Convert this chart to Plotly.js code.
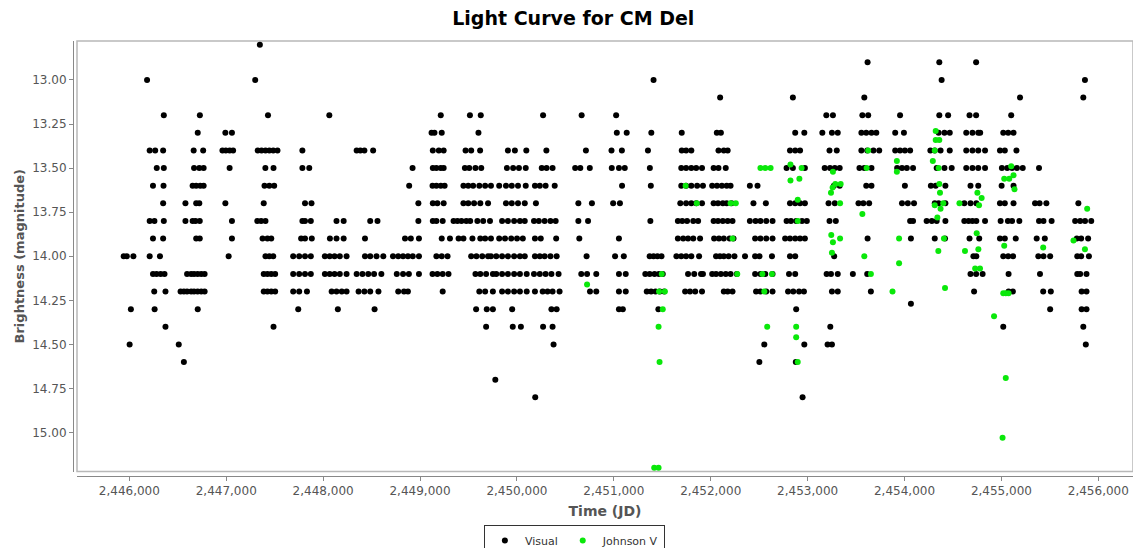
<!DOCTYPE html>
<html>
<head>
<meta charset="utf-8">
<script src="https://cdn.plot.ly/plotly-3.0.1.min.js"></script>
<style>html,body{margin:0;padding:0;background:#fff;}#chart{width:1133px;height:548px;}</style>
</head>
<body>
<div id="chart"></div>
<script>
// Days are counted from JD 2,440,000
const JD_BASE = 2440000;

// Visual estimates: one list of observation days per magnitude value
const visualMags = [12.8, 12.9, 13.0, 13.1, 13.2, 13.3, 13.4, 13.5, 13.6, 13.7, 13.8, 13.9, 14.0, 14.1, 14.2, 14.27, 14.3, 14.4, 14.5, 14.6, 14.7, 14.8];
const visualDays = [
  [7347],
  [13619, 14359, 14739],
  [6183, 7299, 11410, 14383, 15862],
  [12097, 12848, 13585, 15192, 15845],
  [6356, 6728, 7431, 8064, 9214, 9515, 9627, 10270, 10668, 11024, 13193, 13261, 13565, 13625, 13954, 14359, 14450, 14671, 14739, 15101],
  [6706, 6991, 7059, 9119, 9149, 9224, 9603, 11031, 11133, 11387, 11701, 12063, 12105, 12872, 12966, 13152, 13251, 13311, 13555, 13605, 13659, 13709, 13904, 13994, 14352, 14412, 14467, 14637, 14701, 14761, 14781, 15019, 15070, 15125],
  [6210, 6267, 6349, 6664, 6762, 6961, 6996, 7036, 7071, 7325, 7365, 7405, 7445, 7485, 7529, 7786, 8346, 8384, 8426, 8516, 9132, 9194, 9244, 9470, 9528, 9620, 9907, 9979, 10097, 10304, 10712, 10976, 11083, 11352, 11701, 11746, 11800, 12080, 12135, 12175, 12818, 12872, 12922, 13226, 13301, 13555, 13615, 13679, 13739, 13904, 13954, 14004, 14058, 14267, 14312, 14372, 14467, 14637, 14701, 14761, 14831, 14985, 15035, 15155],
  [6283, 6356, 6668, 6722, 6767, 7035, 7404, 7488, 7786, 7857, 8923, 9132, 9169, 9214, 9244, 9463, 9508, 9572, 9632, 9897, 9961, 10021, 10091, 10256, 10306, 10368, 10601, 10654, 10752, 10979, 11053, 11113, 11372, 11696, 11746, 11800, 11850, 11910, 12030, 12080, 12155, 12783, 12848, 12972, 13176, 13231, 13281, 13331, 13535, 13585, 13659, 13924, 13974, 14024, 14088, 14332, 14412, 14487, 14637, 14701, 14761, 14831, 15005, 15060, 15110, 15160, 15220, 15388],
  [6244, 6353, 6653, 6690, 6732, 6767, 7395, 7445, 7495, 8888, 9129, 9169, 9214, 9254, 9448, 9498, 9548, 9612, 9672, 9732, 9817, 9887, 9947, 10011, 10091, 10186, 10236, 10296, 10390, 11085, 11382, 11696, 11746, 11800, 11860, 11920, 12015, 12065, 12115, 12165, 12205, 12404, 12483, 13271, 13331, 13605, 13659, 14004, 14272, 14322, 14422, 14681, 14761, 15002, 15125],
  [6349, 6579, 6690, 6722, 6991, 7387, 7813, 7880, 8983, 9132, 9179, 9244, 9448, 9498, 9558, 9622, 9702, 9887, 9947, 10011, 10081, 10196, 10634, 10774, 10993, 11063, 11686, 11746, 11800, 11850, 11910, 12030, 12075, 12125, 12165, 12215, 12441, 12569, 12818, 12872, 12922, 12972, 13216, 13281, 13525, 13575, 13635, 13974, 14034, 14098, 14312, 14352, 14422, 14617, 14681, 14741, 14985, 15035, 15125, 15347, 15394, 15464, 15794],
  [6210, 6259, 6356, 6579, 6653, 6683, 6727, 7059, 7320, 7360, 7405, 7786, 7813, 7873, 8138, 8212, 8486, 8561, 8983, 9132, 9169, 9234, 9346, 9386, 9428, 9478, 9518, 9592, 9652, 9722, 9847, 9907, 9971, 10031, 10081, 10176, 10226, 10286, 10346, 10400, 10634, 10734, 11377, 11661, 11706, 11756, 11820, 11870, 12030, 12075, 12125, 12175, 12225, 12404, 12463, 12513, 12573, 12638, 12783, 12828, 12882, 12942, 12992, 13226, 13291, 14058, 14088, 14228, 14282, 14332, 14422, 14617, 14661, 14701, 14741, 14831, 14992, 15067, 15110, 15185, 15388, 15434, 15518, 15761, 15813, 15863, 15927],
  [6244, 6349, 6690, 6727, 7059, 7375, 7425, 7465, 7773, 7813, 7883, 8070, 8138, 8212, 8432, 8845, 8905, 8989, 9224, 9309, 9398, 9448, 9541, 9622, 9672, 9732, 9817, 9877, 9941, 10001, 10061, 10186, 10246, 10405, 10644, 11053, 11661, 11716, 11766, 11820, 11890, 12035, 12085, 12135, 12195, 12235, 12458, 12513, 12573, 12638, 12768, 12818, 12872, 12922, 12972, 13619, 14066, 14312, 14418, 14671, 14771, 14985, 15035, 15148, 15364, 15448, 15778, 15823, 15895],
  [5942, 5974, 6042, 6210, 6316, 7025, 7405, 7445, 7485, 7691, 7753, 7813, 7873, 8018, 8068, 8118, 8172, 8242, 8432, 8486, 8551, 8621, 8721, 8775, 8825, 8875, 8925, 8989, 9169, 9224, 9284, 9528, 9582, 9642, 9702, 9732, 9787, 9847, 9907, 9971, 10031, 10081, 10186, 10236, 10286, 10346, 10410, 10719, 11013, 11103, 11370, 11410, 11450, 11492, 11646, 11696, 11746, 11800, 11880, 12055, 12095, 12135, 12185, 12245, 12354, 12458, 12503, 12632, 12818, 12872, 13274, 14711, 14741, 15019, 15070, 15120, 15381, 15434, 15503, 15783, 15823, 15903],
  [6244, 6281, 6323, 6363, 6596, 6638, 6668, 6705, 6742, 6777, 7387, 7425, 7465, 7505, 7691, 7753, 7813, 7873, 8018, 8068, 8118, 8172, 8242, 8346, 8406, 8466, 8526, 8601, 8760, 8825, 8885, 8989, 9129, 9179, 9234, 9294, 9572, 9622, 9682, 9752, 9787, 9847, 9907, 9971, 10031, 10101, 10176, 10236, 10296, 10356, 10430, 10664, 10724, 10819, 11053, 11123, 11325, 11370, 11420, 11465, 11505, 11766, 11830, 11900, 11920, 12015, 12055, 12105, 12155, 12205, 12269, 12458, 12513, 12563, 12638, 12808, 12872, 13196, 13241, 13311, 13467, 13615, 14681, 14739, 14806, 15074, 15398, 15783, 15813, 15878],
  [6257, 6373, 6529, 6563, 6596, 6638, 6668, 6705, 6742, 6777, 7387, 7425, 7465, 7505, 7691, 7753, 7833, 8088, 8138, 8192, 8242, 8366, 8426, 8486, 8571, 8775, 8835, 8875, 9234, 9612, 9672, 9752, 9847, 9907, 9971, 10031, 10101, 10186, 10266, 10316, 10368, 10440, 10754, 10819, 11053, 11123, 11340, 11385, 11430, 11475, 11520, 11736, 11786, 11840, 11910, 12135, 12175, 12225, 12468, 12513, 12573, 12638, 12798, 12852, 12912, 12962, 13251, 13311, 13653, 14718, 15074, 15118, 15431, 15510, 15828, 15878],
  [14066],
  [6016, 6261, 6706, 7743, 8152, 8531, 9579, 9689, 9752, 9951, 10356, 10410, 11053, 11093, 11460, 12882, 15503, 15828, 15878],
  [6373, 7488, 9682, 9957, 10041, 10270, 10368, 13234, 15019, 15845],
  [6003, 6510, 10378, 12553, 12966, 13206, 13251, 15871],
  [6563, 12502, 12878],
  [9777],
  [10189, 12948]
];

// Johnson V measurements (day, magnitude)
const johnsonDays = [10724, 12513, 12563, 12618, 12823, 12938, 12823, 12915, 11741, 11856, 12205, 12259, 12898, 12898, 12225,
  11495, 12274, 12533, 12632, 11467, 11527, 12553, 11505, 11462, 12583, 12882, 12882, 11472, 12898, 11417, 11462,
  14322, 14322, 14359, 13625, 14312, 13921, 14292, 14352, 13609, 13261, 13921, 13286, 13341, 14359, 13258, 13241, 14366,
  13335, 14400, 14567, 14312, 14372, 13565, 14339, 13244, 13335, 13944, 14407, 13261, 14349, 14624, 13251, 13585, 13944,
  13653, 13876, 14418,
  15101, 15125, 15029, 15081, 15135, 14752, 14796, 14769, 15885, 14745, 15744, 15029, 15431, 14762, 15862, 14729, 14779,
  15019, 15045, 15074, 14924, 15045, 15012];
const johnsonMags = [14.16, 13.5, 13.5, 13.5, 13.48, 13.5, 13.57, 13.56, 13.6, 13.7, 13.7, 13.7, 13.68, 13.8, 13.9,
  14.1, 14.1, 14.1, 14.1, 14.2, 14.2, 14.2, 14.3, 14.4, 14.4, 14.4, 14.46, 14.6, 14.6, 15.2, 15.2,
  13.29, 13.34, 13.34, 13.4, 13.4, 13.46, 13.46, 13.5, 13.5, 13.52, 13.52, 13.59, 13.59, 13.59, 13.61, 13.64, 13.64,
  13.7, 13.7, 13.7, 13.71, 13.73, 13.76, 13.78, 13.88, 13.9, 13.9, 13.9, 13.92, 13.97, 13.97, 13.98, 14.0, 14.04,
  14.1, 14.2, 14.18,
  13.49, 13.54, 13.56, 13.56, 13.62, 13.64, 13.67, 13.71, 13.73, 13.87, 13.91, 13.94, 13.95, 13.96, 13.96, 14.07, 14.07,
  14.21, 14.21, 14.21, 14.34, 14.69, 15.03];

const yTickVals = [13.0, 13.25, 13.5, 13.75, 14.0, 14.25, 14.5, 14.75, 15.0];

const visX = [], visY = [];
visualMags.forEach(function (m, i) {
  visualDays[i].forEach(function (d) { visX.push(JD_BASE + d); visY.push(m); });
});
const jvX = johnsonDays.map(function (d) { return JD_BASE + d; });

const FONT = 'DejaVu Sans, Verdana, sans-serif';

const traces = [
  { type: 'scatter', mode: 'markers', name: 'Visual', x: visX, y: visY,
    marker: { color: '#000000', size: 6 }, cliponaxis: true },
  { type: 'scatter', mode: 'markers', name: 'Johnson V', x: jvX, y: johnsonMags,
    marker: { color: 'rgb(10,232,10)', size: 6 }, cliponaxis: true }
];

const xd0 = 4 / 1060, yd0 = 4.5 / 435;

const layout = {
  width: 1133, height: 548,
  margin: { l: 73, r: 0, t: 41, b: 72, autoexpand: false },
  paper_bgcolor: '#ffffff', plot_bgcolor: '#ffffff',
  showlegend: true,
  title: { text: 'Light Curve for CM Del', font: { family: FONT, size: 19, color: '#000', weight: 'bold' },
    xref: 'container', x: 0.506, xanchor: 'center', yref: 'container', y: 1 - 18 / 548, yanchor: 'middle' },
  xaxis: {
    domain: [xd0, 1], anchor: 'free', position: 0,
    range: [JD_BASE + 5460, JD_BASE + 16358],
    showgrid: false, zeroline: false, showline: true, linecolor: '#888', linewidth: 1,
    ticks: 'outside', ticklen: 4, tickcolor: '#888', tick0: 2446000, dtick: 1000, tickformat: ',d',
    tickfont: { family: FONT, size: 12, color: '#555' },
    title: { text: 'Time (JD)', font: { family: FONT, size: 14, color: '#555', weight: 'bold' }, standoff: 8 },
    automargin: false
  },
  yaxis: {
    domain: [yd0, 1], anchor: 'free', position: 0,
    range: [15.221, 12.779],
    showgrid: false, zeroline: false, showline: true, linecolor: '#888', linewidth: 1,
    ticks: 'outside', ticklen: 4, tickcolor: '#888', tickvals: yTickVals, tickformat: '.2f',
    tickfont: { family: FONT, size: 12, color: '#555' },
    title: { text: 'Brightness (magnitude)', font: { family: FONT, size: 13, color: '#555', weight: 'bold' }, standoff: 3 },
    automargin: false
  },
  shapes: [
    { type: 'rect', xref: 'paper', yref: 'paper', x0: xd0, x1: 1, y0: yd0, y1: 1,
      line: { color: '#b8b8b8', width: 1.5 }, layer: 'below' }
  ],
  legend: {
    orientation: 'h', x: 0.473, xanchor: 'center', y: -(525 - 476) / 435, yanchor: 'top',
    bordercolor: '#333', borderwidth: 1, bgcolor: '#fff',
    font: { family: FONT, size: 11, color: '#333' }
  }
};

Plotly.newPlot('chart', traces, layout, { displayModeBar: false, staticPlot: true });
</script>
</body>
</html>
